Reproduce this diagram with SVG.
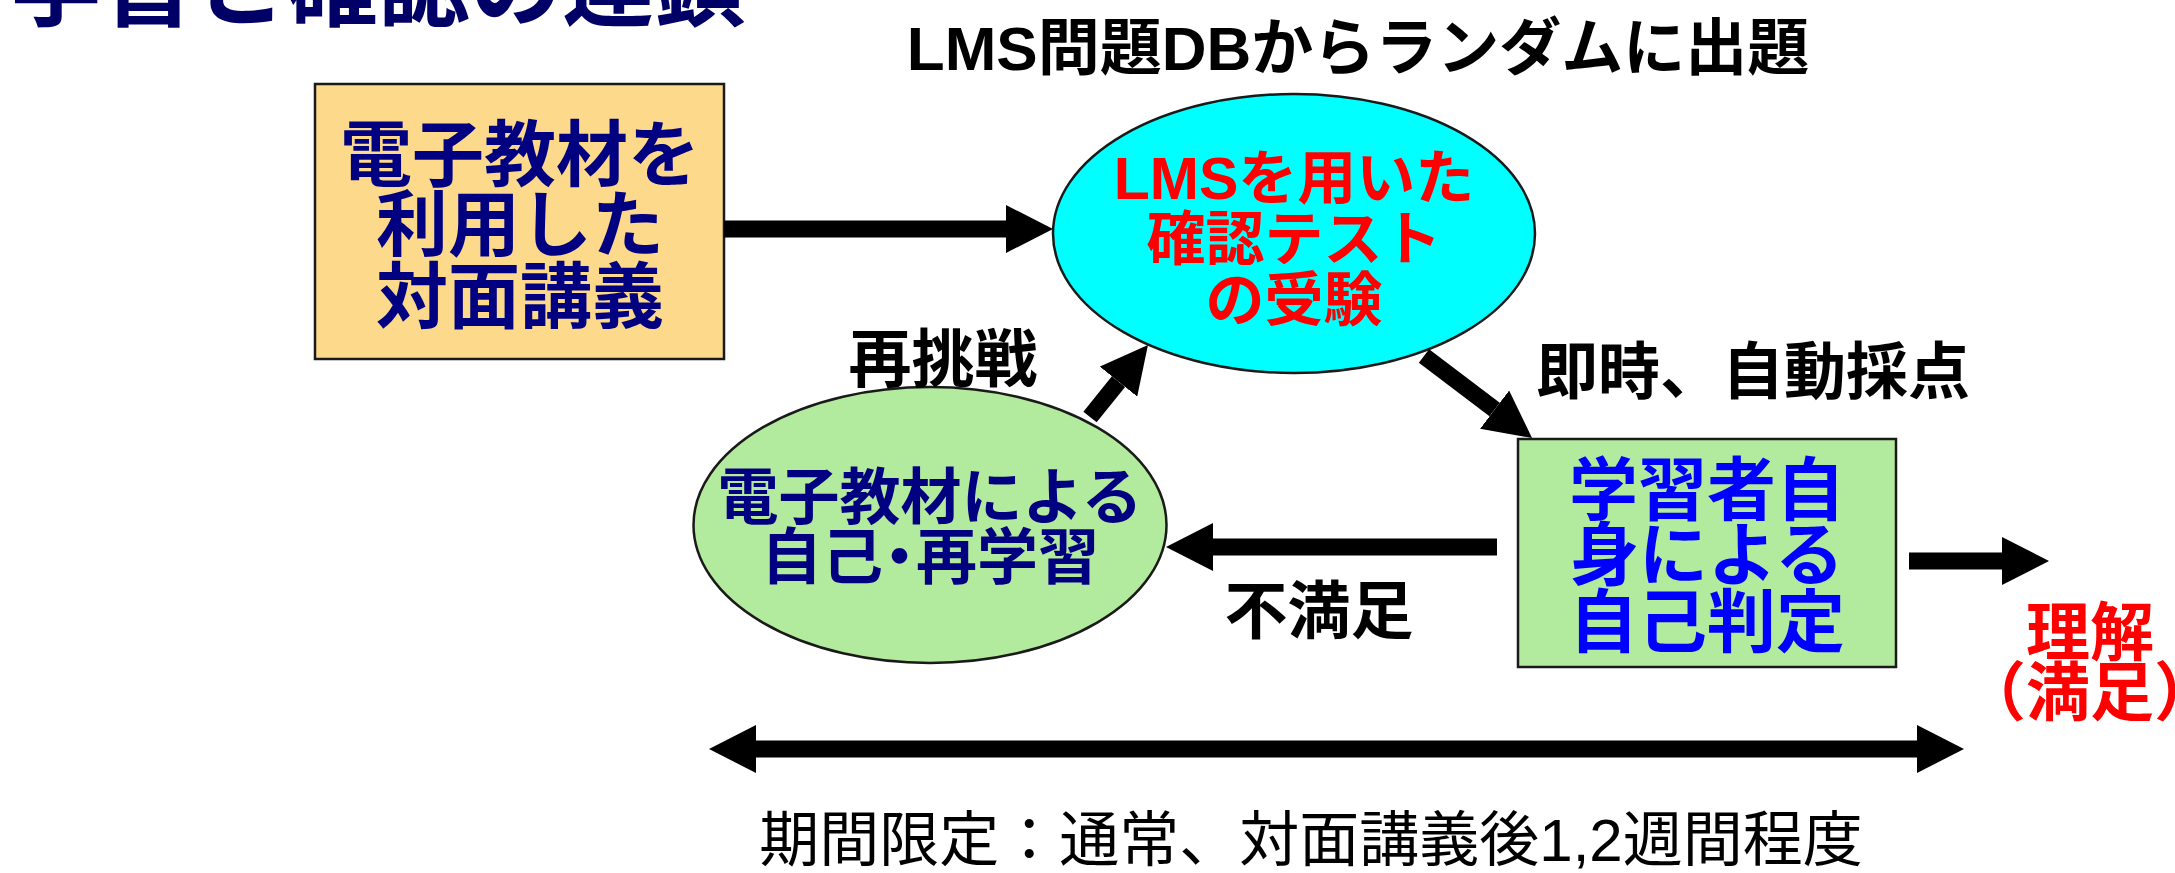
<svg xmlns="http://www.w3.org/2000/svg" width="2175" height="873" viewBox="0 0 2175 873">
<style>
text{font-family:"Liberation Sans","Noto Sans CJK JP",sans-serif;font-weight:bold;text-anchor:middle}
.node{stroke:#1a1a1a;stroke-width:2.5}
.navy{fill:#000080}
.blk{fill:#000}
.red{fill:#FF0000}
.blue{fill:#0000FF}
.conn line{stroke:#000;stroke-width:17;fill:none}
</style>
<defs>
<marker id="ah" viewBox="0 0 47 48" markerWidth="47" markerHeight="48" refX="0" refY="24" markerUnits="userSpaceOnUse" orient="auto-start-reverse">
<path d="M0,0 L47,24 L0,48 Z" fill="#000"/>
</marker>
</defs>
<rect width="2175" height="873" fill="#fff"/>
<g id="title">
<text x="10" y="19" style="text-anchor:start;fill:#000066" font-size="92">学習と確認の連鎖</text>
</g>
<g id="label-db">
<text class="blk" x="1358" y="70" font-size="62">LMS問題DBからランダムに出題</text>
</g>
<g id="node-lecture">
<rect class="node" x="315" y="84" width="409" height="275" fill="#FDDA8B"/>
<text class="navy" x="520" y="180" font-size="72">電子教材を</text>
<text class="navy" x="520" y="250" font-size="72">利用した</text>
<text class="navy" x="520" y="322" font-size="72">対面講義</text>
</g>
<g id="node-test">
<ellipse class="node" cx="1294" cy="233.5" rx="241" ry="139.5" fill="#00FFFF"/>
<text class="red" x="1294" y="199" font-size="59">LMSを用いた</text>
<text class="red" x="1294" y="260" font-size="59">確認テスト</text>
<text class="red" x="1294" y="321" font-size="59">の受験</text>
</g>
<g id="node-relearn">
<ellipse class="node" cx="930" cy="525" rx="236.5" ry="138" fill="#B3EB9E"/>
<text class="navy" x="930" y="519" font-size="61">電子教材による</text>
<text class="navy" x="930" y="579" font-size="61">自己<tspan dx="-14">・</tspan><tspan dx="-14">再学習</tspan></text>
</g>
<g id="node-judge">
<rect class="node" x="1518" y="439" width="378" height="228" fill="#B3EB9E"/>
<text class="blue" x="1707" y="515" font-size="69">学習者自</text>
<text class="blue" x="1707" y="580" font-size="69">身による</text>
<text class="blue" x="1707" y="647" font-size="69">自己判定</text>
</g>
<g id="node-understand">
<text class="red" x="2090" y="655" font-size="64">理解</text>
<text class="red" x="2090" y="715" font-size="64">（満足）</text>
</g>
<g id="connectors" class="conn">
<line x1="724" y1="229" x2="1006" y2="229" marker-end="url(#ah)"/>
<line x1="1090" y1="417" x2="1118.5" y2="381.6" marker-end="url(#ah)"/>
<line x1="1424" y1="356" x2="1494.6" y2="409.6" marker-end="url(#ah)"/>
<line x1="1497" y1="547" x2="1213" y2="547" marker-end="url(#ah)"/>
<line x1="1909" y1="561" x2="2002" y2="561" marker-end="url(#ah)"/>
<line x1="756" y1="749" x2="1917" y2="749" marker-start="url(#ah)" marker-end="url(#ah)"/>
</g>
<g id="labels">
<text class="blk" x="943" y="381" font-size="63">再挑戦</text>
<text class="blk" x="1753" y="394" font-size="62">即時、自動採点</text>
<text class="blk" x="1319" y="633" font-size="63">不満足</text>
<text class="blk" x="1311" y="861" font-size="60" style="font-weight:normal">期間限定：通常、対面講義後1,2週間程度</text>
</g>
</svg>
